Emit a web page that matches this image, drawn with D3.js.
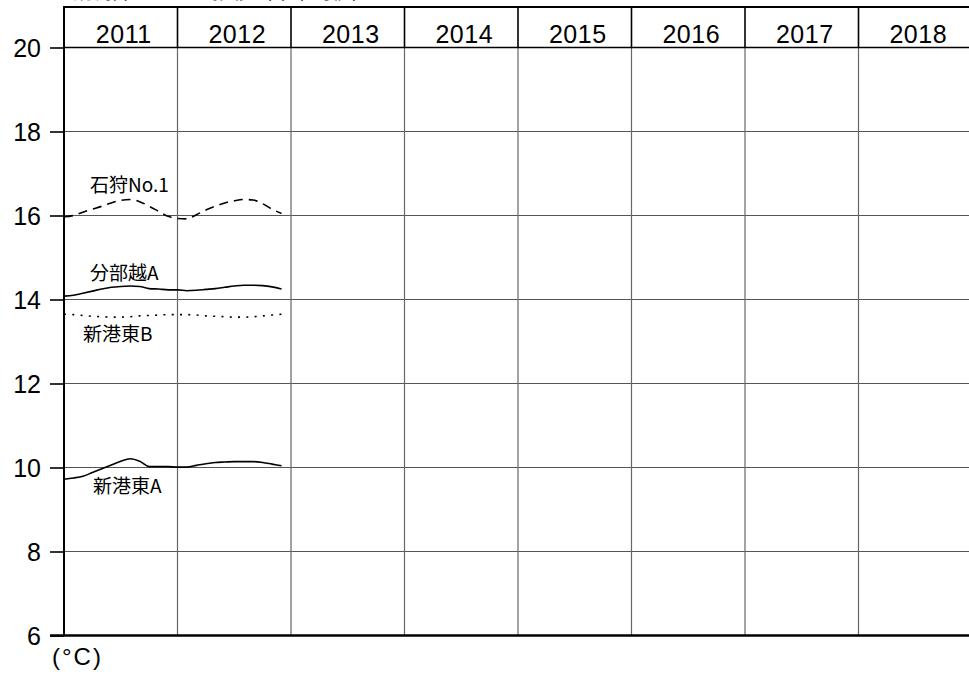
<!DOCTYPE html>
<html>
<head>
<meta charset="utf-8">
<script src="https://cdn.jsdelivr.net/npm/d3@7"></script>
<style>
  html, body { margin: 0; padding: 0; background: #fff; }
  svg { display: block; }
  text { fill: #000; }
</style>
</head>
<body>
<svg id="chart" width="969" height="678"></svg>
<script>
// Year columns across the top band
const years = ["2011", "2012", "2013", "2014", "2015", "2016", "2017", "2018"];
// Y axis ticks (°C)
const yTicks = [6, 8, 10, 12, 14, 16, 18, 20];

// Monthly values, Jan 2011 – Dec 2012
const months = d3.range(24).map(i => 2011 + i / 12);
const ishikariNo1 = [15.97, 16.00, 16.08, 16.15, 16.22, 16.30, 16.36, 16.38, 16.33, 16.22, 16.10, 15.98,
                     15.93, 15.92, 16.02, 16.13, 16.22, 16.30, 16.35, 16.38, 16.37, 16.28, 16.15, 16.05];
const wakkanbeA   = [14.08, 14.10, 14.15, 14.20, 14.25, 14.29, 14.31, 14.32, 14.31, 14.26, 14.25, 14.23,
                     14.23, 14.21, 14.22, 14.24, 14.26, 14.29, 14.32, 14.34, 14.34, 14.33, 14.30, 14.25];
const shinkotoB   = [13.65, 13.64, 13.62, 13.60, 13.59, 13.58, 13.58, 13.59, 13.61, 13.62, 13.63, 13.64,
                     13.64, 13.64, 13.63, 13.61, 13.60, 13.59, 13.58, 13.58, 13.59, 13.61, 13.63, 13.65];
const shinkotoA   = [9.72, 9.75, 9.79, 9.88, 9.97, 10.06, 10.15, 10.21, 10.15, 10.02, 10.02, 10.02,
                     10.01, 10.01, 10.05, 10.09, 10.12, 10.13, 10.14, 10.14, 10.14, 10.12, 10.08, 10.04];

const seriesNames = ["石狩No.1", "分部越A", "新港東B", "新港東A"];
const seriesValues = [ishikariNo1, wakkanbeA, shinkotoB, shinkotoA];

(function draw() {
  const svg = d3.select("#chart");
  const plotLeft = 64, plotRight = 972, plotTop = 47.5, plotBottom = 635.5, bandTop = 7;

  const x = d3.scaleLinear().domain([2011, 2019]).range([plotLeft, plotRight]);
  const y = d3.scaleLinear().domain([6, 20]).range([plotBottom, plotTop]);

  const latin = "'Liberation Sans', Arial, sans-serif";
  const cjk = "'Noto Sans CJK JP', 'Noto Sans', sans-serif";

  // Heading (runs off the top edge)
  svg.append("text")
    .attr("x", 72).attr("y", -1)
    .style("font-family", cjk).style("font-size", "20px")
    .text("観測井の地温の推移（年平均値）");

  // Horizontal grid
  svg.append("g").selectAll("line")
    .data(yTicks.filter(t => t > 6 && t < 20))
    .join("line")
    .attr("x1", plotLeft).attr("x2", 969)
    .attr("y1", d => y(d)).attr("y2", d => y(d))
    .attr("stroke", "#555").attr("stroke-width", 1.2);

  // Vertical year dividers inside the plot
  const dividers = d3.range(2012, 2019);
  svg.append("g").selectAll("line")
    .data(dividers)
    .join("line")
    .attr("x1", d => x(d)).attr("x2", d => x(d))
    .attr("y1", plotTop).attr("y2", plotBottom)
    .attr("stroke", "#666").attr("stroke-width", 1.2);

  // Year band dividers
  svg.append("g").selectAll("line")
    .data(dividers)
    .join("line")
    .attr("x1", d => x(d)).attr("x2", d => x(d))
    .attr("y1", bandTop).attr("y2", plotTop)
    .attr("stroke", "#000").attr("stroke-width", 1.6);

  // Band top and bottom rules
  svg.append("line").attr("x1", plotLeft).attr("x2", 969).attr("y1", bandTop).attr("y2", bandTop)
    .attr("stroke", "#000").attr("stroke-width", 2);
  svg.append("line").attr("x1", plotLeft).attr("x2", 969).attr("y1", plotTop).attr("y2", plotTop)
    .attr("stroke", "#000").attr("stroke-width", 1.5);

  // Year labels
  svg.append("g").selectAll("text")
    .data(years)
    .join("text")
    .attr("x", d => x(+d + 0.5) + 3)
    .attr("y", 43)
    .attr("text-anchor", "middle")
    .style("font-family", latin).style("font-size", "25px")
    .style("letter-spacing", "0.5px")
    .text(d => d);

  // Y axis
  const yAxis = d3.axisLeft(y).tickValues(yTicks).tickSize(14).tickPadding(9).tickFormat(d3.format("d"));
  const yg = svg.append("g").attr("transform", `translate(${plotLeft},0)`).call(yAxis);
  yg.select(".domain").remove();
  yg.selectAll(".tick line").attr("stroke", "#000").attr("stroke-width", 1.6);
  yg.selectAll(".tick text")
    .style("font-family", latin).style("font-size", "25px").attr("fill", "#000")
    .attr("dy", "0.34em");

  // Left axis line and bottom rule
  svg.append("line").attr("x1", plotLeft).attr("x2", plotLeft).attr("y1", bandTop - 1).attr("y2", plotBottom)
    .attr("stroke", "#000").attr("stroke-width", 2);
  svg.append("line").attr("x1", 50).attr("x2", 969).attr("y1", plotBottom).attr("y2", plotBottom)
    .attr("stroke", "#000").attr("stroke-width", 2.5);

  // Unit label
  svg.append("text")
    .attr("x", 52).attr("y", 665)
    .style("font-family", latin).style("font-size", "24px")
    .style("letter-spacing", "2px")
    .text("(°C)");

  // Series lines
  const line = d3.line().curve(d3.curveMonotoneX).x((d, i) => x(months[i])).y(d => y(d));
  const dashes = ["9,6", null, "2,6.3", null];
  seriesValues.forEach((vals, k) => {
    svg.append("path")
      .datum(vals)
      .attr("d", line)
      .attr("fill", "none")
      .attr("stroke", "#000")
      .attr("stroke-width", 1.6)
      .attr("stroke-dasharray", dashes[k]);
  });

  // Series labels
  const labelPos = [
    { x: 90, y: 192 },
    { x: 90, y: 280 },
    { x: 83, y: 341 },
    { x: 93, y: 493 }
  ];
  svg.append("g").selectAll("text")
    .data(seriesNames)
    .join("text")
    .attr("x", (d, i) => labelPos[i].x)
    .attr("y", (d, i) => labelPos[i].y)
    .style("font-family", cjk).style("font-size", "19px")
    .text(d => d);
})();
</script>
</body>
</html>
